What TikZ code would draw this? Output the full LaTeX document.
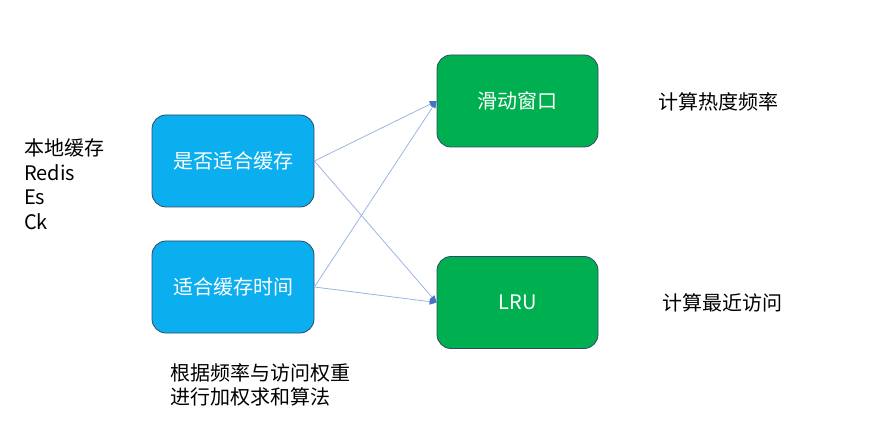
\documentclass[tikz,border=0pt]{standalone}
\usepackage{fontspec}
\setmainfont{Noto Sans CJK SC}
\usetikzlibrary{arrows.meta}

\definecolor{boxblue}{HTML}{0BAEEE}
\definecolor{boxgreen}{HTML}{00B050}
\definecolor{boxedge}{HTML}{2E4A66}
\definecolor{linkblue}{HTML}{9DB4E2}
\definecolor{tipblue}{HTML}{4472C4}

\begin{document}
\begin{tikzpicture}[x=1pt, y=-1pt,
      block_blue/.style ={rectangle, rounded corners=14pt, draw=boxedge, thick,
        fill=boxblue, text=white, minimum width=162pt, minimum height=92pt,
        font=\fontsize{20}{24}\selectfont},
      block_green/.style ={rectangle, rounded corners=14pt, draw=boxedge, thick,
        fill=boxgreen, text=white, minimum width=161pt, minimum height=92pt,
        font=\fontsize{20}{24}\selectfont},
      block_noborder/.style ={rectangle, draw=none, inner sep=0pt,
        align=left, font=\fontsize{20}{24.5}\selectfont},
      line/.style ={draw=linkblue, line width=0.8pt,
        -{Triangle[length=7pt, width=6pt, color=tipblue]}, shorten >=0pt}]
    \useasboundingbox (0,0) rectangle (874,443);
    %
    % 1. boxes
    \node [block_blue] (fit_cache) at (233,161) {是否适合缓存};
    \node [block_blue] (cache_time) at (233,287) {适合缓存时间};
    \node [block_green] (window) at (517.5,101) {滑动窗口};
    \node [block_green] (lru) at (517.5,302.5) {LRU};
    %
    % 2. side notes
    \node [block_noborder, anchor=west] (stores) at (24,184) {本地缓存\\Redis\\Es\\Ck};
    \node [block_noborder, anchor=west] (hot) at (658,102) {计算热度频率};
    \node [block_noborder, anchor=west] (recent) at (662,303) {计算最近访问};
    \node [block_noborder, anchor=west] (weight) at (170,385) {根据频率与访问权重\\进行加权求和算法};
    %
    % 3. connecting nodes with paths
    \begin{scope}[every path/.style=line]
      \path (fit_cache.east) -- (window.west);
      \path (fit_cache.east) -- (lru.west);
      \path (cache_time.east) -- (window.west);
      \path (cache_time.east) -- (lru.west);
    \end{scope}
\end{tikzpicture}
\end{document}
